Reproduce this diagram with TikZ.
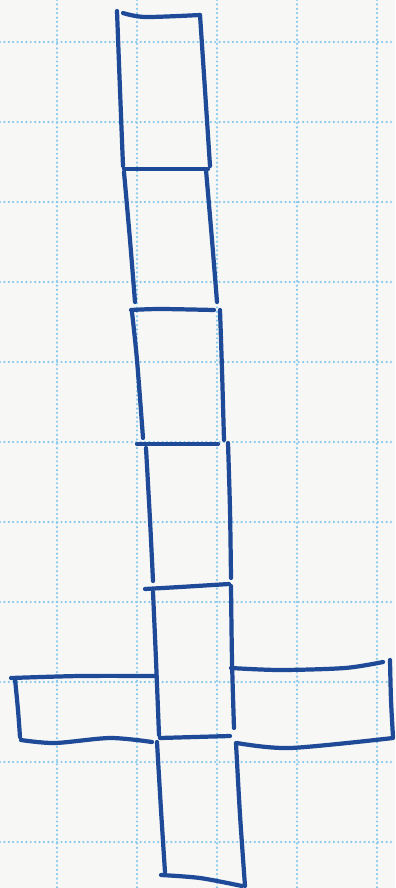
\documentclass[tikz,border=0pt]{standalone}
\usepackage{xcolor}
\usepackage{tikz}
\definecolor{paper}{HTML}{F7F7F6}
\definecolor{gridblue}{HTML}{84C8EE}
\definecolor{ink}{HTML}{1E4A98}

\begin{document}
\begin{tikzpicture}[x=0.1cm,y=-0.1cm,
    gridline/.style={gridblue,line width=7pt,line cap=round,dash pattern=on 0pt off 12.5pt},
    pen/.style={ink,line width=12pt,line cap=round,line join=round}]
  % paper and grid
  \fill[paper] (0,0) rectangle (395,888);
  \useasboundingbox (0,0) rectangle (395,888);
  \foreach \gx in {57,137,217,297,377}
    \draw[gridline] (\gx,0) -- (\gx,888);
  \foreach \gy in {42,122,...,842}
    \draw[gridline] (0,\gy) -- (395,\gy);

  % column of boxes
  \draw[pen] plot[smooth] coordinates {(117,11) (120,90) (123,166)};
  \draw[pen] plot[smooth] coordinates {(123,13) (145,17) (200,15)};
  \draw[pen] plot[smooth] coordinates {(200,15) (205,90) (210,166)};
  \draw[pen] (124,169) -- (208,169);
  \draw[pen] plot[smooth] coordinates {(124,172) (130,240) (135,302)};
  \draw[pen] plot[smooth] coordinates {(206,170) (212,240) (217,302)};
  \draw[pen] plot[smooth] coordinates {(131,310) (160,309) (214,310)};
  \draw[pen] plot[smooth] coordinates {(132,312) (137,360) (143,438)};
  \draw[pen] plot[smooth] coordinates {(220,310) (222,370) (224,440)};
  \draw[pen] (137,444) -- (218,444);
  \draw[pen] plot[smooth] coordinates {(146,448) (150,520) (153,581)};
  \draw[pen] plot[smooth] coordinates {(228,443) (230,510) (231,578)};
  \draw[pen] plot[smooth] coordinates {(145,589) (180,587) (229,584)};
  \draw[pen] plot[smooth] coordinates {(153,592) (156,660) (159,735)};
  \draw[pen] plot[smooth] coordinates {(231,586) (232,660) (234,728)};
  \draw[pen] (160,738) -- (230,736);
  \draw[pen] plot[smooth] coordinates {(157,742) (161,810) (165,872)};
  \draw[pen] plot[smooth] coordinates {(236,743) (240,815) (245,886)};
  \draw[pen] plot[smooth] coordinates {(161,875) (200,878) (242,886)};

  % left arm
  \draw[pen] plot[smooth] coordinates {(11,678) (80,676) (156,676)};
  \draw[pen] plot[smooth] coordinates {(15,679) (18,710) (20,737)};
  \draw[pen] plot[smooth] coordinates {(21,740) (55,743) (110,738) (152,742)};

  % right arm
  \draw[pen] plot[smooth] coordinates {(231,668) (280,670) (345,668) (383,662)};
  \draw[pen] plot[smooth] coordinates {(390,660) (391,700) (393,737)};
  \draw[pen] plot[smooth] coordinates {(237,743) (290,748) (393,738)};
\end{tikzpicture}
\end{document}
